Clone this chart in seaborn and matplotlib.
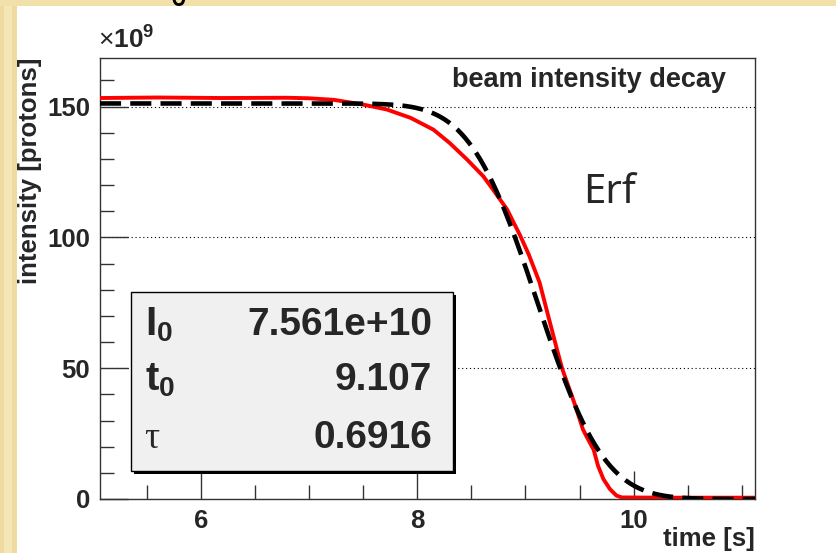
import math
import numpy as np
import pandas as pd
import matplotlib
matplotlib.use("Agg")
import matplotlib.pyplot as plt
from matplotlib.patches import Rectangle
from matplotlib.ticker import MultipleLocator
import seaborn as sns

# measured beam intensity (units of 1e9 protons) versus time [s]
time_s = [5.07, 5.6, 6.2, 6.8, 7.0, 7.23, 7.5, 7.72, 7.94, 8.15, 8.30, 8.46,
          8.61, 8.70, 8.83, 8.95, 9.03, 9.13, 9.21, 9.29, 9.34, 9.46, 9.53,
          9.56, 9.63, 9.67, 9.72, 9.78, 9.84, 9.89, 10.3, 10.7, 11.12]
intensity = [153.3, 153.5, 153.3, 153.4, 153.2, 152.6, 150.8, 148.9, 145.7,
             141.2, 136.1, 129.8, 123.4, 118.3, 110.7, 100.8, 93.5, 82.8, 70.0,
             57.3, 49.7, 35.7, 26.7, 24.2, 18.8, 12.7, 7.6, 3.8, 1.3, 0.6,
             0.5, 0.5, 0.5]

# erfc fit parameters
I0 = 7.561e10
t0 = 9.107
tau = 0.6916
param_names = [r"$\mathbf{I_0}$", r"$\mathbf{t_0}$", "τ"]
param_values = ["7.561e+10", "9.107", "0.6916"]

x_range = (5.07, 11.12)
y_range = (0, 168.6)

sns.set_theme(style="white")
plt.rcParams["font.family"] = ["Liberation Sans", "DejaVu Sans"]
plt.rcParams["mathtext.fontset"] = "custom"
plt.rcParams["mathtext.rm"] = "Liberation Sans"
plt.rcParams["mathtext.bf"] = "Liberation Sans:bold"
plt.rcParams["mathtext.it"] = "Liberation Sans:italic"

fig = plt.figure(figsize=(8.36, 5.53), dpi=100, facecolor="white")

# slide border strips
fig.patches.append(Rectangle((0, 0), 17 / 836, 1, transform=fig.transFigure,
                             facecolor="#efdb9f", edgecolor="none", zorder=-5))
fig.patches.append(Rectangle((4 / 836, 0), 8 / 836, 1, transform=fig.transFigure,
                             facecolor="#f5e6b6", edgecolor="none", zorder=-5))
fig.patches.append(Rectangle((0, 1 - 6 / 553), 1, 6 / 553, transform=fig.transFigure,
                             facecolor="#f1e0aa", edgecolor="none", zorder=-5))
# slide title line, mostly above the visible area
fig.text(0.02, 1.0, "σ  e  σ  t₀  ω  ω", fontsize=30,
         family=["Noto Sans", "DejaVu Sans"], color="black", va="baseline")
fig.text(0.42, 1.0, "ESS", fontsize=30,
         family=["Noto Sans", "DejaVu Sans"], color="red", va="baseline")

ax = fig.add_axes([100 / 836, 1 - 499 / 553, 655 / 836, 441 / 553])
ax.set_facecolor("white")

meas = pd.DataFrame({"t": time_s, "I": intensity})
sns.lineplot(data=meas, x="t", y="I", ax=ax, color="#ff0000", lw=2.8,
             errorbar=None, zorder=3)

t_fit = np.linspace(x_range[0], x_range[1], 500)
I_fit = np.array([I0 / 1e9 * math.erfc((t - t0) / tau) for t in t_fit])
fit = pd.DataFrame({"t": t_fit, "I": I_fit})
sns.lineplot(data=fit, x="t", y="I", ax=ax, color="black", lw=3.3,
             linestyle=(0, (4.6, 2.0)), errorbar=None, zorder=4)
for ln in ax.lines:
    ln.set_dash_capstyle("butt")

ax.set_xlim(*x_range)
ax.set_ylim(*y_range)
ax.xaxis.set_major_locator(MultipleLocator(2))
ax.xaxis.set_minor_locator(MultipleLocator(0.5))
ax.yaxis.set_major_locator(MultipleLocator(50))
ax.yaxis.set_minor_locator(MultipleLocator(10))
ax.tick_params(which="major", direction="in", length=20, width=1, color="#333333",
               labelsize=18.5, pad=7, left=True, bottom=True)
ax.tick_params(which="minor", direction="in", length=10, width=1, color="#333333",
               left=True, bottom=True)
for lab in ax.get_xticklabels() + ax.get_yticklabels():
    lab.set_fontweight("bold")
ax.grid(axis="y", which="major", color="black", linestyle=(0, (1, 2.5)), lw=0.8)
ax.grid(axis="x", visible=False)
for sp in ax.spines.values():
    sp.set_color("#333333")
    sp.set_linewidth(1)

ax.set_xlabel("time [s]", fontsize=18.5, fontweight="bold", loc="right")
ax.xaxis.set_label_coords(1.0, -0.063)
ax.set_ylabel("intensity [protons]", fontsize=18.5, fontweight="bold", loc="top")
ax.yaxis.set_label_coords(-0.088, 1.0)

ax.text(-0.003, 1.01, r"$\times\mathbf{10^9}$", transform=ax.transAxes,
        fontsize=19, ha="left", va="bottom")
ax.text(0.955, 0.935, "beam intensity decay", transform=ax.transAxes,
        fontsize=19.5, fontweight="bold", ha="right", va="baseline")
ax.text(0.737, 0.671, "Erf", transform=ax.transAxes, fontsize=29,
        family=["Noto Sans", "DejaVu Sans"], ha="left", va="baseline")

# statistics box with drop shadow
bx0, by0, bw, bh = 0.0473, 0.0635, 0.4917, 0.4055
ax.add_patch(Rectangle((bx0 + 0.005, by0 - 0.007), bw, bh, transform=ax.transAxes,
                       facecolor="black", edgecolor="none", zorder=5))
ax.add_patch(Rectangle((bx0, by0), bw, bh, transform=ax.transAxes,
                       facecolor="#f0f0f0", edgecolor="black", lw=1, zorder=6))
rows_y = [0.372, 0.247, 0.116]
for name, val, yy in zip(param_names, param_values, rows_y):
    if name == "τ":
        ax.text(0.068, yy, name, transform=ax.transAxes, fontsize=27,
                family=["Liberation Serif", "DejaVu Serif"], ha="left",
                va="baseline", zorder=7)
    else:
        ax.text(0.068, yy, name, transform=ax.transAxes, fontsize=29,
                ha="left", va="baseline", zorder=7)
    ax.text(0.507, yy, val, transform=ax.transAxes, fontsize=28,
            fontweight="bold", ha="right", va="baseline", zorder=7)

fig.savefig("out.png", dpi=100, facecolor="white")
